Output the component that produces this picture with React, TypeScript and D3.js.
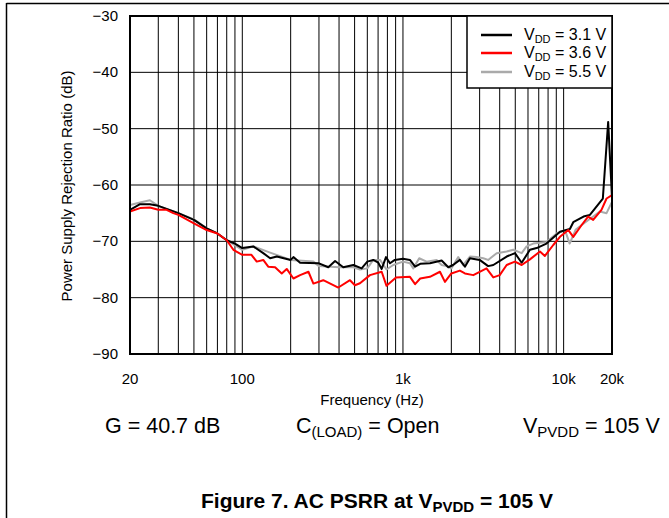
import React from "react";
import * as d3 from "d3";

const seriesNames = ["3.1 V", "3.6 V", "5.5 V"];
const seriesColors = ["#000000", "#ff0000", "#aaaaaa"];

const vdd31: [number, number][] = [
  [20, -64.4], [23.1, -63.4], [26.6, -63.4], [30, -63.7], [40, -65.0], [50, -66.2], [60, -67.7],
  [70, -68.6], [80, -69.8], [90, -70.4], [100, -71.2], [117, -70.9], [135, -72.1], [149, -73.0],
  [164, -72.7], [200, -73.3], [208, -72.8], [229, -73.8], [300, -73.9], [343, -74.6], [378, -73.5],
  [425, -74.6], [491, -74.2], [553, -74.8], [600, -73.6], [653, -73.3], [702, -73.8], [737, -74.9],
  [784, -72.8], [830, -73.9], [890, -73.3], [1000, -73.1], [1105, -73.3], [1190, -74.5], [1280, -74.0],
  [1472, -73.9], [1740, -73.4], [1915, -74.6], [2050, -74.2], [2260, -73.3], [2430, -74.5], [2610, -73.0],
  [3000, -73.3], [3390, -74.4], [3650, -74.2], [4420, -72.7], [4980, -72.1], [5480, -73.8], [6170, -71.5],
  [6790, -71.2], [7820, -70.4], [9490, -68.3], [10940, -67.8], [11480, -66.6], [13300, -65.6],
  [14570, -65.3], [17540, -62.4], [18930, -48.8], [20000, -62.2],
];

const vdd36: [number, number][] = [
  [20, -64.7], [23.1, -64.1], [26.6, -64.0], [30, -64.4], [33.8, -64.4], [37.2, -65.0], [40, -65.3],
  [50, -66.8], [60, -68.0], [70, -68.6], [80, -69.8], [88, -71.5], [100, -72.4], [114, -72.4],
  [123, -73.6], [135, -73.3], [145, -74.5], [160, -74.6], [176, -75.7], [189, -74.9], [208, -76.6],
  [229, -76.0], [258, -75.4], [277, -77.5], [319, -76.9], [396, -78.2], [468, -76.9], [502, -77.8],
  [540, -77.45], [623, -76.0], [737, -75.4], [790, -77.9], [905, -76.4], [1105, -76.3], [1190, -77.6],
  [1280, -76.6], [1472, -76.3], [1699, -75.4], [1825, -77.2], [2000, -75.7], [2260, -75.2], [2430, -75.7],
  [2740, -76.0], [3310, -74.8], [3650, -76.4], [4000, -76.0], [4420, -74.2], [4980, -73.6], [5480, -74.2],
  [6170, -73.2], [7120, -71.8], [7640, -72.6], [8620, -70.65], [9490, -69.2], [10700, -68.0],
  [11480, -69.2], [12950, -67.1], [14200, -65.6], [15270, -66.2], [17200, -64.4], [18500, -62.4],
  [20000, -61.8],
];

const vdd55: [number, number][] = [
  [20, -63.55], [23.1, -63.1], [26.6, -62.7], [30, -63.7], [40, -65.0], [50, -66.1], [60, -67.7],
  [70, -68.6], [80, -69.8], [100, -71.5], [117, -70.9], [149, -72.0], [200, -73.3], [277, -73.6],
  [300, -74.4], [400, -74.6], [491, -74.6], [540, -75.0], [600, -74.8], [653, -73.3], [720, -73.3],
  [790, -75.0], [870, -74.2], [1000, -73.6], [1105, -73.9], [1159, -74.8], [1262, -73.0], [1403, -73.6],
  [1619, -73.3], [1740, -74.2], [1870, -74.4], [2000, -74.8], [2208, -72.8], [2372, -74.2], [2610, -72.7],
  [2870, -72.8], [3160, -73.0], [3390, -73.3], [3830, -72.1], [4420, -71.8], [4860, -71.5], [5480, -72.1],
  [5880, -70.9], [6470, -70.4], [7820, -70.1], [9040, -68.6], [10200, -68.0], [10900, -70.4],
  [11900, -67.9], [13400, -66.8], [15270, -65.6], [16800, -64.7], [18500, -65.0], [20000, -63.0],
];

const yTicks = [-90, -80, -70, -60, -50, -40, -30];
const xTickValues = [20, 100, 1000, 10000, 20000];
const xTickLabels = ["20", "100", "1k", "10k", "20k"];
const xGrid = [30, 40, 50, 60, 70, 80, 90, 100, 200, 300, 400, 500, 600, 700, 800, 900, 1000,
  2000, 3000, 4000, 5000, 6000, 7000, 8000, 9000, 10000];

const FONT = "'Liberation Sans', Arial, sans-serif";

export default function App() {
  const left = 130, right = 612, top = 16, bottom = 354;
  const x = d3.scaleLog().domain([20, 20000]).range([left, right]);
  const y = d3.scaleLinear().domain([-90, -30]).range([bottom, top]);
  const line = d3.line<[number, number]>().x((d) => x(d[0])).y((d) => y(d[1]));
  const series = [vdd31, vdd36, vdd55];
  const drawOrder = [2, 0, 1];

  const legX = 467, legY = 16, legW = right - 467, legH = 72;
  const legRows = [35, 53, 72];

  return (
    <svg width={669} height={518} style={{ position: "absolute", left: 0, top: 0, background: "#fff" }}
      fontFamily={FONT}>
      <line x1={6.5} y1={3.5} x2={669} y2={3.5} stroke="#000" strokeWidth={1.5} />
      <line x1={6.5} y1={3} x2={6.5} y2={518} stroke="#000" strokeWidth={1.5} />

      {xGrid.map((v) => (
        <line key={"gx" + v} x1={x(v)} x2={x(v)} y1={top} y2={bottom} stroke="#000" strokeWidth={1} />
      ))}
      {yTicks.map((v) => (
        <line key={"gy" + v} x1={left} x2={right} y1={y(v)} y2={y(v)} stroke="#000" strokeWidth={1} />
      ))}

      {drawOrder.map((i) => (
        <path key={"s" + i} d={line(series[i]) || ""} fill="none" stroke={seriesColors[i]}
          strokeWidth={2} strokeLinejoin="round" />
      ))}

      <rect x={left} y={top} width={right - left} height={bottom - top} fill="none" stroke="#000" strokeWidth={2} />

      <rect x={legX} y={legY} width={legW} height={legH} fill="#fff" stroke="#000" strokeWidth={1.5} />
      {seriesNames.map((n, i) => (
        <g key={"l" + i}>
          <line x1={481} x2={512} y1={legRows[i]} y2={legRows[i]} stroke={seriesColors[i]} strokeWidth={2.5} />
          <text x={524} y={legRows[i] + 5} fontSize={16} fill="#000">
            V<tspan fontSize={11} dy={3}>DD</tspan><tspan dy={-3}> = {n}</tspan>
          </text>
        </g>
      ))}

      {yTicks.map((v) => (
        <text key={"yl" + v} x={118} y={y(v) + 5} textAnchor="end" fontSize={15} fill="#000">
          {"\u2212" + Math.abs(v)}
        </text>
      ))}
      {xTickValues.map((v, i) => (
        <text key={"xl" + v} x={x(v)} y={384} textAnchor="middle" fontSize={15} fill="#000">
          {xTickLabels[i]}
        </text>
      ))}
      <text x={372} y={405} textAnchor="middle" fontSize={15} fill="#000">Frequency (Hz)</text>
      <text transform={`translate(72, 186) rotate(-90)`} textAnchor="middle" fontSize={15} fill="#000">
        Power Supply Rejection Ratio (dB)
      </text>

      <text x={105} y={433} fontSize={21.5} fill="#000">G = 40.7 dB</text>
      <text x={296} y={433} fontSize={21.5} fill="#000">
        C<tspan fontSize={15} dy={4}>(LOAD)</tspan><tspan dy={-4}> = Open</tspan>
      </text>
      <text x={523} y={433} fontSize={21.5} fill="#000">
        V<tspan fontSize={15} dy={4}>PVDD</tspan><tspan dy={-4}> = 105 V</tspan>
      </text>

      <text x={377} y={508} textAnchor="middle" fontSize={21} fontWeight="bold" fill="#000">
        Figure 7. AC PSRR at V<tspan fontSize={15} dy={4}>PVDD</tspan><tspan dy={-4}> = 105 V</tspan>
      </text>
    </svg>
  );
}
